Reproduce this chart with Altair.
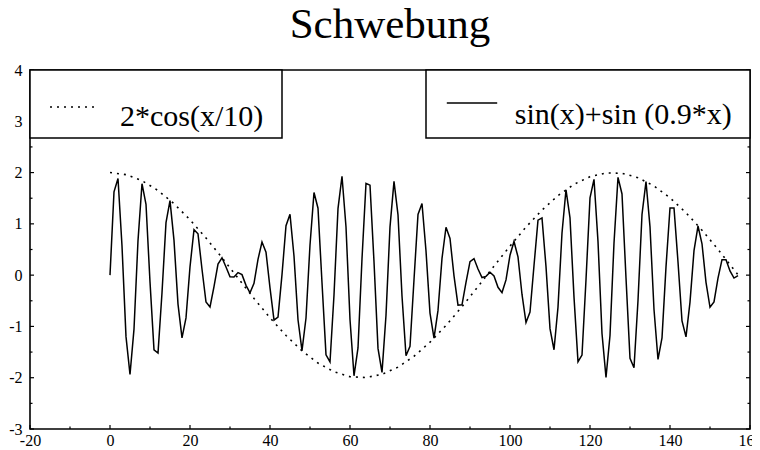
import altair as alt
import pandas as pd

# ---- data ----
beat_x = list(range(158))
beat_y = [
    0.0, 1.625, 1.883, 0.569, -1.199, -1.937, -1.052, 0.674, 1.783, 1.382,
    -0.132, -1.458, -1.518, -0.342, 1.024, 1.454, 0.678, -0.565, -1.224, -0.834,
    0.162, 0.887, 0.805, 0.115, -0.524, -0.620, -0.224, 0.217, 0.338, 0.160,
    -0.032, -0.038, 0.050, 0.010, -0.199, -0.344, -0.159, 0.308, 0.646, 0.448,
    -0.247, -0.875, -0.816, 0.010, 0.964, 1.185, 0.371, -0.870, -1.473, -0.836,
    0.589, 1.611, 1.305, -0.149, -1.555, -1.693, -0.387, 1.296, 1.928, 0.939,
    -0.864, -1.963, -1.420, 0.318, 1.788, 1.755, 0.260, -1.428, -1.896, -0.783,
    0.941, 1.828, 1.176, -0.407, -1.572, -1.387, -0.090, 1.184, 1.398, 0.471,
    -0.740, -1.230, -0.687, 0.326, 0.934, 0.716, -0.015, -0.584, -0.578, -0.140,
    0.264, 0.323, 0.120, -0.047, -0.024, 0.057, -0.016, -0.237, -0.340, -0.093,
    0.388, 0.657, 0.355, -0.377, -0.925, -0.721, 0.187, 1.071, 1.115, 0.165,
    -1.043, -1.455, -0.624, 0.823, 1.664, 1.117, -0.428, -1.688, -1.558, -0.089,
    1.507, 1.869, 0.654, -1.138, -1.993, -1.178, 0.628, 1.906, 1.583, -0.055,
    -1.620, -1.807, -0.495, 1.183, 1.825, 0.942, -0.669, -1.644, -1.222, 0.162,
    1.310, 1.308, 0.257, -0.893, -1.205, -0.526, 0.477, 0.958, 0.612, -0.140,
    -0.626, -0.523, -0.057, 0.301, 0.300, 0.082, -0.056, -0.008,
]
env_x = [0, 4, 8, 12, 16, 20, 24, 28, 32, 36, 40, 44, 48, 52, 56, 60, 64, 68, 72, 76,
         80, 84, 88, 92, 96, 100, 104, 108, 112, 116, 120, 124, 128, 132, 136, 140,
         144, 148, 152, 156, 157]
env_y = [2.000, 1.960, 1.842, 1.651, 1.393, 1.081, 0.725, 0.340, -0.058, -0.454,
         -0.832, -1.177, -1.475, -1.714, -1.884, -1.980, -1.997, -1.934, -1.794, -1.582,
         -1.307, -0.981, -0.615, -0.224, 0.175, 0.567, 0.937, 1.269, 1.551, 1.771,
         1.920, 1.993, 1.986, 1.901, 1.739, 1.508, 1.217, 0.877, 0.503, 0.108, 0.008]

x_major = [-20, 0, 20, 40, 60, 80, 100, 120, 140, 160]
x_minor = [-10, 10, 30, 50, 70, 90, 110, 130, 150]
y_major = [-3, -2, -1, 0, 1, 2, 3, 4]
y_minor = [-2.5, -1.5, -0.5, 0.5, 1.5, 2.5, 3.5]

legend_labels = ["2*cos(x/10)", "sin(x)+sin (0.9*x)"]
title_text = "Schwebung"

# ---- layout ----
W, H = 720, 359
FONT = "Liberation Serif, Times New Roman, Times, serif"
xs = alt.Scale(domain=[-20, 160], nice=False, zero=False)
ys = alt.Scale(domain=[-3, 4], nice=False, zero=False)
HYPHEN_LABEL = "datum.value < 0 ? '-' + abs(datum.value) : '' + datum.value"

beat_df = pd.DataFrame({"x": beat_x, "y": beat_y})
env_df = pd.DataFrame({"x": env_x, "y": env_y})

x_axis = alt.Axis(values=x_major, title=None, grid=False, domain=False, ticks=False,
                  labelFont=FONT, labelFontSize=16, labelColor="black",
                  labelPadding=3, labelFlush=False, labelExpr=HYPHEN_LABEL)
y_axis = alt.Axis(values=y_major, title=None, grid=False, domain=False, ticks=False,
                  labelFont=FONT, labelFontSize=16, labelColor="black",
                  labelPadding=8, labelExpr=HYPHEN_LABEL)

env = alt.Chart(env_df).mark_line(color="black", strokeWidth=1.6, strokeDash=[2, 5]).encode(
    x=alt.X("x:Q", scale=xs, axis=x_axis),
    y=alt.Y("y:Q", scale=ys, axis=y_axis),
)
beat = alt.Chart(beat_df).mark_line(color="black", strokeWidth=1.5).encode(
    x=alt.X("x:Q", scale=xs, axis=x_axis),
    y=alt.Y("y:Q", scale=ys, axis=y_axis),
)

def yticks(vals, length, right=False):
    df = pd.DataFrame({"v": vals})
    x0 = W - length if right else 0
    x1 = W if right else length
    return alt.Chart(df).mark_rule(color="black", strokeWidth=1.2).encode(
        y=alt.Y("v:Q", scale=ys, axis=y_axis),
        x=alt.value(x0), x2=alt.value(x1))

def xticks(vals, length):
    df = pd.DataFrame({"v": vals})
    return alt.Chart(df).mark_rule(color="black", strokeWidth=1.2).encode(
        x=alt.X("v:Q", scale=xs, axis=x_axis),
        y=alt.value(H - length), y2=alt.value(H))

ticks = [
    yticks(y_major, 4), yticks(y_minor, 2.5),
    yticks(y_major, 4, right=True), yticks(y_minor, 2.5, right=True),
    xticks(x_major, 4), xticks(x_minor, 2.5),
]

# legend boxes (annotation geometry in data coordinates)
box_df = pd.DataFrame({"x1": [-20, 79], "x2": [43, 160], "y1": [2.673, 2.673], "y2": [4, 4]})
boxes = alt.Chart(box_df).mark_rect(fill="white", stroke="black", strokeWidth=1.5).encode(
    x=alt.X("x1:Q", scale=xs, axis=x_axis), x2="x2:Q",
    y=alt.Y("y1:Q", scale=ys, axis=y_axis), y2="y2:Q")

lab_df = pd.DataFrame({"x": [2.5, 101.2], "y": [2.91, 2.95], "t": legend_labels})
labels = alt.Chart(lab_df).mark_text(font=FONT, fontSize=30, align="left",
                                     baseline="alphabetic", color="black").encode(
    x=alt.X("x:Q", scale=xs, axis=x_axis), y=alt.Y("y:Q", scale=ys, axis=y_axis), text="t:N")

sym_dot = alt.Chart(pd.DataFrame({"x1": [-15], "x2": [-3.2], "y": [3.28]})).mark_rule(
    color="black", strokeWidth=1.6, strokeDash=[2, 5]).encode(
    x=alt.X("x1:Q", scale=xs, axis=x_axis), x2="x2:Q", y=alt.Y("y:Q", scale=ys, axis=y_axis))
sym_solid = alt.Chart(pd.DataFrame({"x1": [84.2], "x2": [96.8], "y": [3.355]})).mark_rule(
    color="black", strokeWidth=1.5).encode(
    x=alt.X("x1:Q", scale=xs, axis=x_axis), x2="x2:Q", y=alt.Y("y:Q", scale=ys, axis=y_axis))

chart = alt.layer(env, beat, *ticks, boxes, labels, sym_dot, sym_solid).properties(
    width=W, height=H,
    title=alt.TitleParams(title_text, font=FONT, fontSize=43, fontWeight="normal",
                          color="black", anchor="middle", frame="group", offset=15),
    autosize=alt.AutoSizeParams(type="none"),
    padding={"left": 22, "top": 62, "right": 2, "bottom": 20},
).configure_view(stroke="black", strokeWidth=1.6)

chart.save("out.html", embed_options={"renderer": "svg", "actions": False})
